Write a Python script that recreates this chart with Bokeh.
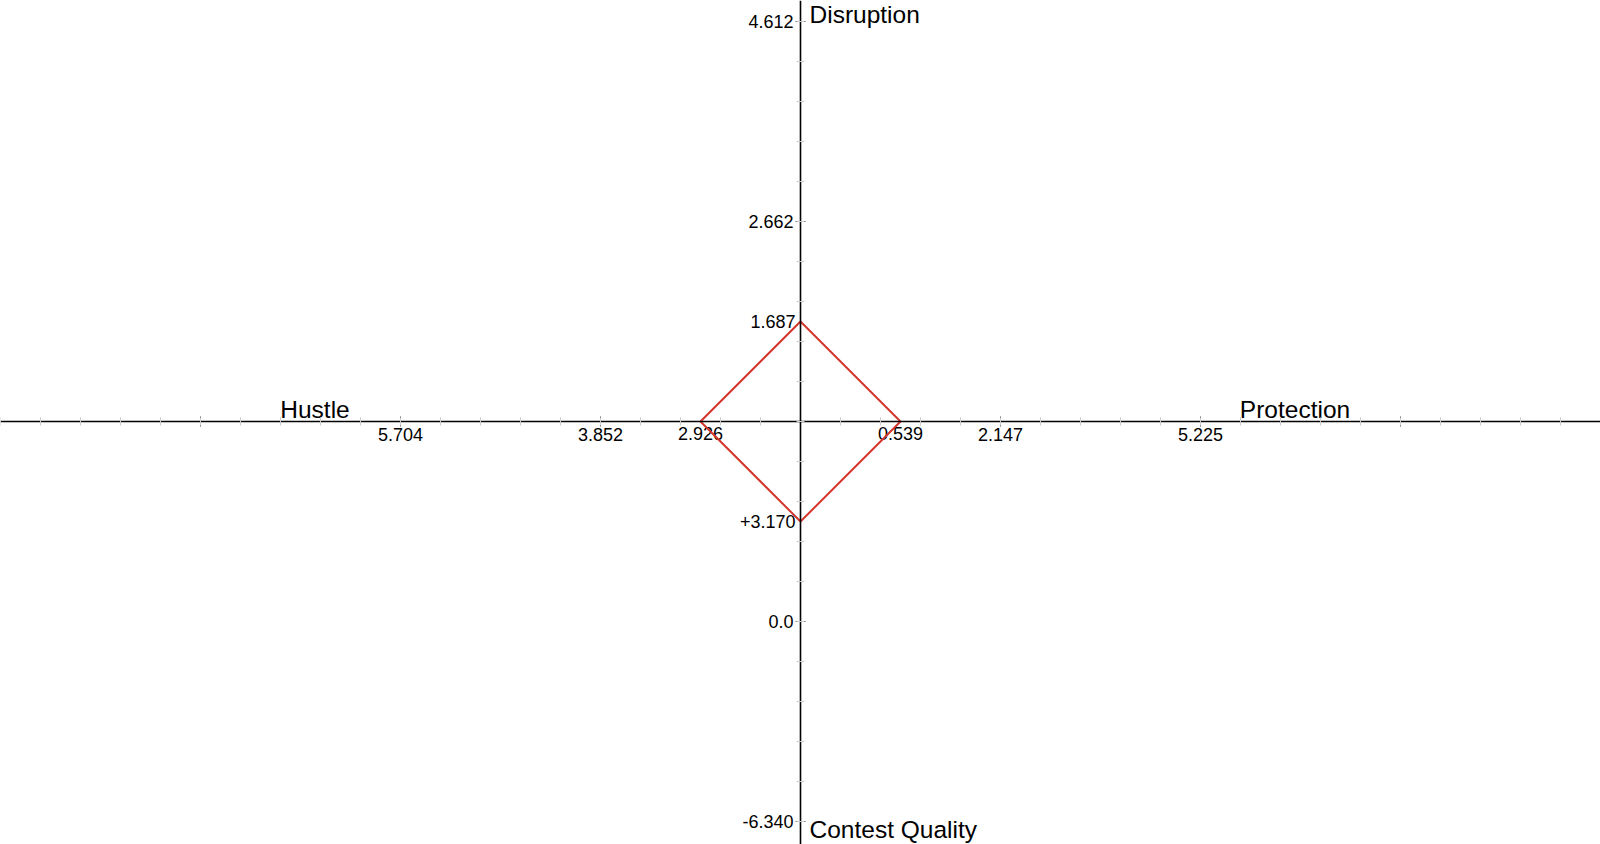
import numpy as np
from bokeh.plotting import figure
from bokeh.models import LinearAxis, FixedTicker, Range1d
from bokeh.core.properties import value
from bokeh.embed import file_html
from bokeh.resources import INLINE

# ---- data ----
categories = ["Disruption", "Protection", "Contest Quality", "Hustle"]
score_labels = ["1.687", "0.539", "+3.170", "2.926"]
plot_radius = [1.0, 1.0, 1.0, 1.0]          # normalised distance of each vertex
x_tick_pos = [-6, -4, -2, 2, 4, 6]
x_tick_labels = ["", "5.704", "3.852", "2.147", "5.225", ""]
y_tick_pos = [-4, -2, 2, 4]
y_tick_labels = ["-6.340", "0.0", "2.662", "4.612"]

# direction of each category axis
dir_x = [0, 1, 0, -1]
dir_y = [1, 0, -1, 0]

FONT = "Liberation Sans"
W, H = 1600, 844
PX = 100.0  # pixels per unit
cx, cy = 800.0, 421.0  # center in figure pixels

p = figure(width=W, height=H,
           x_range=Range1d(-cx / PX, (W - cx) / PX),
           y_range=Range1d(-(H - cy) / PX, cy / PX),
           output_backend="svg", toolbar_location=None,
           x_axis_type=None, y_axis_type=None, min_border=0)
p.outline_line_color = None
p.background_fill_color = "white"
p.border_fill_color = "white"

x_minor = [round(v, 2) for v in np.arange(-8, 8.01, 0.4)]
y_minor = [round(v, 2) for v in np.arange(-4.4, 4.41, 0.4)]

def style(ax):
    ax.axis_line_color = "black"
    ax.axis_line_width = 1.6
    ax.major_tick_line_color = "#555555"
    ax.major_tick_in = 5
    ax.major_tick_out = 5
    ax.minor_tick_line_color = "#cccccc"
    ax.minor_tick_in = 4
    ax.minor_tick_out = 4
    ax.major_label_text_font = FONT
    ax.major_label_text_font_size = "18px"
    ax.major_label_text_color = "black"

xaxis = LinearAxis(fixed_location=0,
                   ticker=FixedTicker(ticks=x_tick_pos, minor_ticks=x_minor),
                   major_label_overrides={float(k): v for k, v in zip(x_tick_pos, x_tick_labels)})
style(xaxis)
xaxis.major_label_standoff = 1
p.add_layout(xaxis, "below")

yaxis = LinearAxis(fixed_location=0,
                   ticker=FixedTicker(ticks=y_tick_pos, minor_ticks=y_minor),
                   major_label_overrides={float(k): v for k, v in zip(y_tick_pos, y_tick_labels)})
style(yaxis)
yaxis.major_label_standoff = 2
p.add_layout(yaxis, "left")

# vertex positions
vx = [r * dx for r, dx in zip(plot_radius, dir_x)]
vy = [r * dy for r, dy in zip(plot_radius, dir_y)]

h_idx = [i for i in range(4) if dir_x[i] != 0]
v_idx = [i for i in range(4) if dir_y[i] != 0]

p.text(x=[vx[i] for i in h_idx], y=[vy[i] for i in h_idx],
       text=[score_labels[i] for i in h_idx],
       text_font=value(FONT), text_font_size="18px", text_color="black",
       text_align="center", text_baseline="alphabetic", y_offset=12)
p.text(x=[vx[i] for i in v_idx], y=[vy[i] for i in v_idx],
       text=[score_labels[i] for i in v_idx],
       text_font=value(FONT), text_font_size="18px", text_color="black",
       text_align="right", text_baseline="middle", x_offset=-5)

# category titles
p.text(x=[-4.855, 4.945], y=[0, 0], text=[categories[3], categories[1]],
       text_font=value(FONT), text_font_size="24.5px", text_color="black",
       text_align="center", text_baseline="alphabetic", y_offset=-12)
p.text(x=[0, 0], y=[4.07, -4.08], text=[categories[0], categories[2]],
       text_font=value(FONT), text_font_size="24.5px", text_color="black",
       text_align="left", text_baseline="alphabetic", x_offset=9)

# diamond
p.line(x=vx + [vx[0]], y=vy + [vy[0]], line_color="#d2362c", line_width=2)

open("out.html", "w").write(file_html(p, INLINE))
